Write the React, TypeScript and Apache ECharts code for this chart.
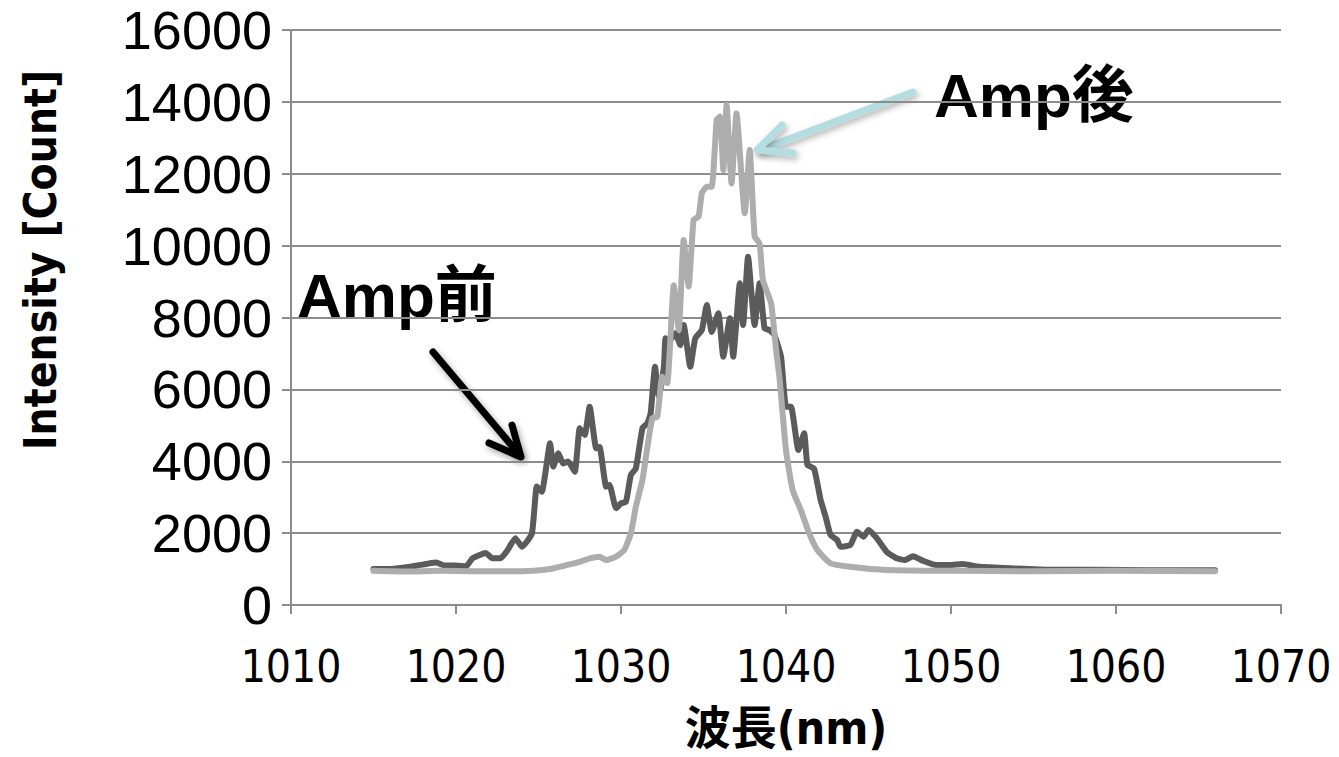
import React, { useEffect, useRef } from "react";
import * as echarts from "echarts";

const xTicks = [1010, 1020, 1030, 1040, 1050, 1060, 1070];
const yTicks = [0, 2000, 4000, 6000, 8000, 10000, 12000, 14000, 16000];

const beforeWavelength = [
  1015.0, 1016.0, 1017.0, 1017.8, 1018.3, 1018.8, 1019.3, 1020.0, 1020.6, 1021.0,
  1021.8, 1022.2, 1022.7, 1023.1, 1023.6, 1024.0, 1024.6, 1024.9, 1025.2, 1025.7,
  1025.9, 1026.2, 1026.5, 1026.8, 1027.2, 1027.5, 1027.8, 1028.1, 1028.5, 1028.7,
  1029.1, 1029.3, 1029.7, 1030.0, 1030.3, 1030.6, 1030.9, 1031.3, 1031.6, 1031.8,
  1032.06, 1032.3, 1032.6, 1032.7, 1032.9, 1033.3, 1033.6, 1033.8, 1034.2, 1034.5,
  1034.9, 1035.2, 1035.5, 1035.9, 1036.2, 1036.6, 1036.8, 1037.2, 1037.4, 1037.7,
  1038.1, 1038.4, 1038.7, 1039.0, 1039.3, 1039.7, 1040.0, 1040.3, 1040.75, 1041.1,
  1041.3, 1041.7, 1042.1, 1042.4, 1042.7, 1043.1, 1043.3, 1043.9, 1044.3, 1044.7,
  1045.0, 1045.5, 1046.1, 1046.7, 1047.2, 1047.7, 1048.3, 1049.1, 1049.9, 1050.7,
  1051.6, 1053.6, 1056.2, 1059.0, 1062.0, 1066.0,
];
const beforeIntensity = [
  1000, 1000, 1050, 1110, 1150, 1180, 1100, 1100, 1070, 1300,
  1450, 1300, 1300, 1510, 1860, 1620, 1990, 3300, 3150, 4500,
  3850, 4220, 3940, 3990, 3710, 4920, 4730, 5520, 4360, 4400,
  3290, 3340, 2690, 2830, 2870, 3620, 3800, 4920, 5060, 5340,
  6630, 5800, 6630, 7420, 7330, 7560, 7230, 7790, 6630, 7420,
  7650, 8350, 7600, 8120, 6910, 7980, 6910, 8950, 7790, 9690,
  7790, 8950, 7700, 7650, 7510, 6910, 5520, 5520, 4310, 4780,
  3900, 3800, 2920, 2460, 1950, 1810, 1620, 1670, 2040, 1900,
  2090, 1860, 1480, 1300, 1250, 1360, 1230, 1110, 1110, 1140,
  1070, 1020, 980, 980, 970, 970,
];

const afterWavelength = [
  1015.0, 1017.0, 1019.0, 1021.0, 1023.0, 1024.7, 1025.7, 1026.7, 1027.5, 1028.1,
  1028.7, 1029.1, 1029.7, 1030.2, 1030.6, 1030.9, 1031.3, 1031.6, 1031.9, 1032.2,
  1032.5, 1032.8, 1033.2, 1033.5, 1033.8, 1034.1, 1034.4, 1034.7, 1034.9, 1035.2,
  1035.5, 1035.8, 1036.0, 1036.2, 1036.4, 1036.7, 1037.0, 1037.5, 1037.8, 1038.1,
  1038.4, 1038.6, 1039.1, 1039.4, 1039.6, 1040.0, 1040.4, 1040.9, 1041.4, 1041.9,
  1042.7, 1043.9, 1046.1, 1050.0, 1055.0, 1060.0, 1066.0,
];
const afterIntensity = [
  950, 930, 950, 940, 940, 955, 1000, 1110, 1200, 1300,
  1345, 1250, 1345, 1530, 2000, 2735, 3480, 4400, 5200, 5240,
  6350, 6170, 8900, 7650, 10160, 8860, 10710, 10810, 11460, 11640,
  11640, 13500, 13590, 12100, 13910, 11730, 13680, 10900, 12660, 10250,
  10060, 9040, 8390, 7100, 6350, 4310, 3200, 2640, 2000, 1530,
  1160, 1065, 975, 950, 940, 950, 940,
];

const FONT = '"Liberation Sans", Arial, "Noto Sans CJK JP", sans-serif';
const NARROW = '"Liberation Sans Narrow", "Arial Narrow", "DejaVu Sans Condensed", "Liberation Sans", "Noto Sans CJK JP", sans-serif';

export default function App() {
  const ref = useRef<HTMLDivElement>(null);
  useEffect(() => {
    if (!ref.current) return;
    const chart = echarts.init(ref.current, null, { renderer: "svg" });
    const before = beforeWavelength.map((w, i) => [w, beforeIntensity[i]]);
    const after = afterWavelength.map((w, i) => [w, afterIntensity[i]]);
    chart.setOption({
      animation: false,
      backgroundColor: "#ffffff",
      grid: { left: 291, right: 58, top: 30, bottom: 152, containLabel: false },
      xAxis: {
        type: "value",
        min: xTicks[0],
        max: xTicks[xTicks.length - 1],
        interval: 10,
        axisLine: { show: true, lineStyle: { color: "#8c8c8c", width: 2 } },
        axisTick: { show: true, length: 9, lineStyle: { color: "#8c8c8c", width: 2 } },
        splitLine: { show: false },
        axisLabel: {
          color: "#000",
          fontSize: 44,
          fontFamily: NARROW,
          margin: 39,
          formatter: (v: number) => String(v),
        },
        name: "波長(nm)",
        nameLocation: "middle",
        nameGap: 100,
        nameTextStyle: { color: "#000", fontSize: 46, fontWeight: "bold", fontFamily: NARROW },
      },
      yAxis: {
        type: "value",
        min: yTicks[0],
        max: yTicks[yTicks.length - 1],
        interval: 2000,
        axisLine: { show: true, lineStyle: { color: "#8c8c8c", width: 2 } },
        axisTick: { show: true, length: 9, lineStyle: { color: "#8c8c8c", width: 2 } },
        splitLine: { show: true, lineStyle: { color: "#8c8c8c", width: 2 } },
        axisLabel: {
          color: "#000",
          fontSize: 54,
          fontFamily: FONT,
          margin: 19,
          formatter: (v: number) => String(v),
        },
      },
      series: [
        {
          name: "Amp前",
          type: "line",
          data: before,
          showSymbol: false,
          smooth: 0.15,
          lineStyle: { color: "#5b5b5b", width: 6, cap: "round", join: "round" },
          z: 2,
        },
        {
          name: "Amp後",
          type: "line",
          data: after,
          showSymbol: false,
          smooth: 0.15,
          lineStyle: { color: "#adadad", width: 6, cap: "round", join: "round" },
          z: 3,
        },
      ],
      graphic: [
        {
          type: "text",
          x: 40,
          y: 260,
          rotation: Math.PI / 2,
          style: {
            text: "Intensity [Count]",
            fontSize: 44,
            fontWeight: "bold",
            fontFamily: NARROW,
            fill: "#000",
            align: "center",
            verticalAlign: "middle",
          },
        },
        {
          type: "text",
          x: 297,
          y: 264,
          style: { text: "Amp前", fontSize: 62, fontWeight: "bold", fontFamily: FONT, fill: "#000" },
        },
        {
          type: "text",
          x: 934,
          y: 64,
          style: { text: "Amp後", fontSize: 62, fontWeight: "bold", fontFamily: FONT, fill: "#000" },
        },
        {
          type: "line",
          shape: { x1: 433, y1: 352, x2: 518, y2: 453 },
          style: { stroke: "#000", lineWidth: 7, lineCap: "round", shadowBlur: 6, shadowColor: "rgba(0,0,0,0.35)", shadowOffsetX: 2, shadowOffsetY: 3 },
        },
        {
          type: "polyline",
          shape: { points: [[512, 425], [521, 457], [489, 443]] },
          style: { stroke: "#000", lineWidth: 7, lineCap: "round", lineJoin: "round", fill: "none", shadowBlur: 6, shadowColor: "rgba(0,0,0,0.35)", shadowOffsetX: 2, shadowOffsetY: 3 },
        },
        {
          type: "line",
          shape: { x1: 913, y1: 92, x2: 760, y2: 150 },
          style: { stroke: "#b3dde1", lineWidth: 7, lineCap: "round", shadowBlur: 6, shadowColor: "rgba(0,0,0,0.3)", shadowOffsetX: 2, shadowOffsetY: 3 },
        },
        {
          type: "polyline",
          shape: { points: [[782, 125], [757, 150], [793, 153]] },
          style: { stroke: "#b3dde1", lineWidth: 7, lineCap: "round", lineJoin: "round", fill: "none", shadowBlur: 6, shadowColor: "rgba(0,0,0,0.3)", shadowOffsetX: 2, shadowOffsetY: 3 },
        },
      ],
    });
    return () => chart.dispose();
  }, []);
  return <div ref={ref} style={{ width: 1339, height: 757, position: "absolute", left: 0, top: 0 }} />;
}
